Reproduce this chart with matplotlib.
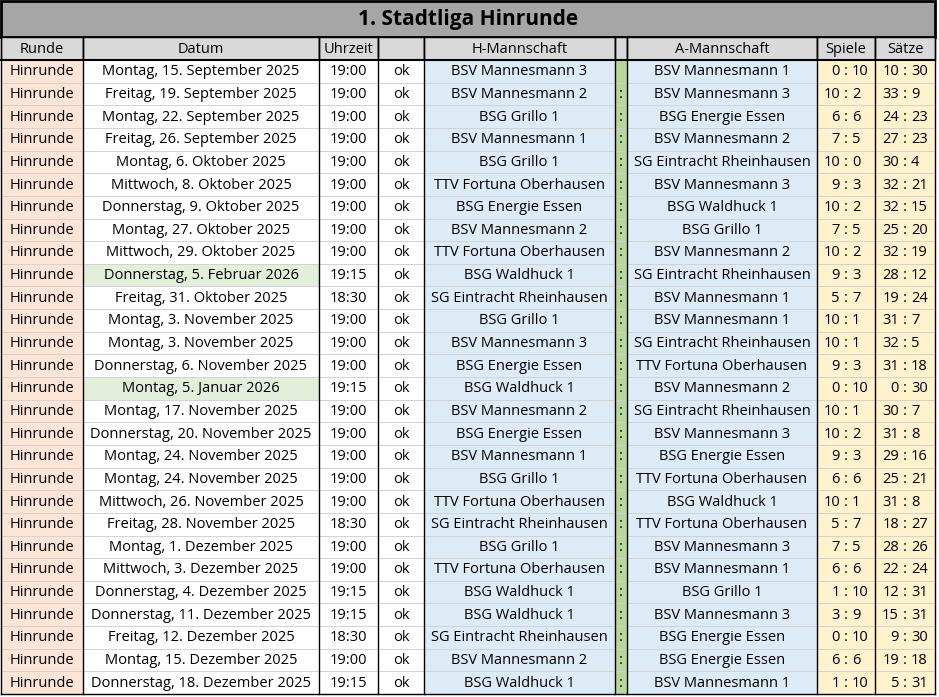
import matplotlib.pyplot as plt
from matplotlib.patches import Rectangle

plt.rcParams['font.family'] = ['Open Sans', 'DejaVu Sans']

title = "1. Stadtliga Hinrunde"
headers = ["Runde", "Datum", "Uhrzeit", "", "H-Mannschaft", "", "A-Mannschaft", "Spiele", "Sätze"]

datum = ["Montag, 15. September 2025", "Freitag, 19. September 2025", "Montag, 22. September 2025",
         "Freitag, 26. September 2025", "Montag, 6. Oktober 2025", "Mittwoch, 8. Oktober 2025",
         "Donnerstag, 9. Oktober 2025", "Montag, 27. Oktober 2025", "Mittwoch, 29. Oktober 2025",
         "Donnerstag, 5. Februar 2026", "Freitag, 31. Oktober 2025", "Montag, 3. November 2025",
         "Montag, 3. November 2025", "Donnerstag, 6. November 2025", "Montag, 5. Januar 2026",
         "Montag, 17. November 2025", "Donnerstag, 20. November 2025", "Montag, 24. November 2025",
         "Montag, 24. November 2025", "Mittwoch, 26. November 2025", "Freitag, 28. November 2025",
         "Montag, 1. Dezember 2025", "Mittwoch, 3. Dezember 2025", "Donnerstag, 4. Dezember 2025",
         "Donnerstag, 11. Dezember 2025", "Freitag, 12. Dezember 2025", "Montag, 15. Dezember 2025",
         "Donnerstag, 18. Dezember 2025"]
uhrzeit = ["19:00"] * 9 + ["19:15", "18:30", "19:00", "19:00", "19:00", "19:15", "19:00", "19:00",
                           "19:00", "19:00", "19:00", "18:30", "19:00", "19:00", "19:15", "19:15",
                           "18:30", "19:00", "19:15"]
heim = ["BSV Mannesmann 3", "BSV Mannesmann 2", "BSG Grillo 1", "BSV Mannesmann 1", "BSG Grillo 1",
        "TTV Fortuna Oberhausen", "BSG Energie Essen", "BSV Mannesmann 2", "TTV Fortuna Oberhausen",
        "BSG Waldhuck 1", "SG Eintracht Rheinhausen", "BSG Grillo 1", "BSV Mannesmann 3",
        "BSG Energie Essen", "BSG Waldhuck 1", "BSV Mannesmann 2", "BSG Energie Essen",
        "BSV Mannesmann 1", "BSG Grillo 1", "TTV Fortuna Oberhausen", "SG Eintracht Rheinhausen",
        "BSG Grillo 1", "TTV Fortuna Oberhausen", "BSG Waldhuck 1", "BSG Waldhuck 1",
        "SG Eintracht Rheinhausen", "BSV Mannesmann 2", "BSG Waldhuck 1"]
gast = ["BSV Mannesmann 1", "BSV Mannesmann 3", "BSG Energie Essen", "BSV Mannesmann 2",
        "SG Eintracht Rheinhausen", "BSV Mannesmann 3", "BSG Waldhuck 1", "BSG Grillo 1",
        "BSV Mannesmann 2", "SG Eintracht Rheinhausen", "BSV Mannesmann 1", "BSV Mannesmann 1",
        "SG Eintracht Rheinhausen", "TTV Fortuna Oberhausen", "BSV Mannesmann 2",
        "SG Eintracht Rheinhausen", "BSV Mannesmann 3", "BSG Energie Essen", "TTV Fortuna Oberhausen",
        "BSG Waldhuck 1", "TTV Fortuna Oberhausen", "BSV Mannesmann 3", "BSV Mannesmann 1",
        "BSG Grillo 1", "BSV Mannesmann 3", "BSG Energie Essen", "BSG Energie Essen",
        "BSV Mannesmann 1"]
spiele_h = [0, 10, 6, 7, 10, 9, 10, 7, 10, 9, 5, 10, 10, 9, 0, 10, 10, 9, 6, 10, 5, 7, 6, 1, 3, 0, 6, 1]
spiele_a = [10, 2, 6, 5, 0, 3, 2, 5, 2, 3, 7, 1, 1, 3, 10, 1, 2, 3, 6, 1, 7, 5, 6, 10, 9, 10, 6, 10]
saetze_h = [10, 33, 24, 27, 30, 32, 32, 25, 32, 28, 19, 31, 32, 31, 0, 30, 31, 29, 25, 31, 18, 28,
            22, 12, 15, 9, 19, 5]
saetze_a = [30, 9, 23, 23, 4, 21, 15, 20, 19, 12, 24, 7, 5, 18, 30, 7, 8, 16, 21, 8, 27, 26, 24,
            31, 31, 30, 18, 31]
highlight_rows = [9, 14]

# column edges in pixels
edges = [1, 83, 319, 378, 424, 615, 627, 817, 875, 935]
col_bg = ['#FCE4D6', 'white', 'white', 'white', '#DDEBF7', '#B7D89C', '#DDEBF7', '#FFF2CC', '#FFF2CC']
title_top, head_top, body_top, bottom = 1, 37, 60, 694
n = len(datum)
rh = (bottom - body_top) / n

fig = plt.figure(figsize=(9.39, 6.97), dpi=100)
ax = fig.add_axes([0, 0, 1, 1])
ax.set_xlim(0, 939)
ax.set_ylim(697, 0)
ax.axis('off')

ax.add_patch(Rectangle((edges[0], title_top), edges[-1] - edges[0], head_top - title_top,
                       fc='#A6A6A6', ec='black', lw=2))
ax.text((edges[0] + edges[-1]) / 2, (title_top + head_top) / 2 + 1, title, ha='center',
        va='center', fontsize=15, fontweight='bold')

for j in range(9):
    x0, x1 = edges[j], edges[j + 1]
    ax.add_patch(Rectangle((x0, head_top), x1 - x0, body_top - head_top, fc='#D9D9D9',
                           ec='black', lw=1))
    ax.text((x0 + x1) / 2, (head_top + body_top) / 2 + 1, headers[j], ha='center', va='center',
            fontsize=10.5)

fs = 10.5
for i in range(n):
    y0 = body_top + i * rh
    yc = y0 + rh / 2 + 0.5
    for j in range(9):
        x0, x1 = edges[j], edges[j + 1]
        fc = col_bg[j]
        if j == 1 and i in highlight_rows:
            fc = '#E2EFDA'
        ax.add_patch(Rectangle((x0, y0), x1 - x0, rh, fc=fc, ec='#D0D0D0', lw=0.6))
    mid = lambda j: (edges[j] + edges[j + 1]) / 2
    ax.text(mid(0), yc, "Hinrunde", ha='center', va='center', fontsize=fs)
    ax.text(mid(1), yc, datum[i], ha='center', va='center', fontsize=fs)
    ax.text(mid(2), yc, uhrzeit[i], ha='center', va='center', fontsize=fs)
    ax.text(mid(3), yc, "ok", ha='center', va='center', fontsize=fs)
    ax.text(mid(4), yc, heim[i], ha='center', va='center', fontsize=fs)
    ax.text(mid(5), yc, ":", ha='center', va='center', fontsize=fs,
            color='#F4B183' if i == 0 else 'black')
    ax.text(mid(6), yc, gast[i], ha='center', va='center', fontsize=fs)
    for j, a, b in [(7, spiele_h[i], spiele_a[i]), (8, saetze_h[i], saetze_a[i])]:
        c = mid(j)
        ax.text(c - 6, yc, str(a), ha='right', va='center', fontsize=fs)
        ax.text(c, yc, ":", ha='center', va='center', fontsize=fs)
        ax.text(c + 6, yc, str(b), ha='left', va='center', fontsize=fs)

# outer column borders
for x in edges:
    ax.plot([x, x], [head_top, bottom], color='black', lw=1)
ax.plot([edges[0], edges[-1]], [bottom, bottom], color='black', lw=1)
ax.plot([edges[0], edges[-1]], [body_top, body_top], color='black', lw=1.5)

fig.savefig('out.png', dpi=100)
